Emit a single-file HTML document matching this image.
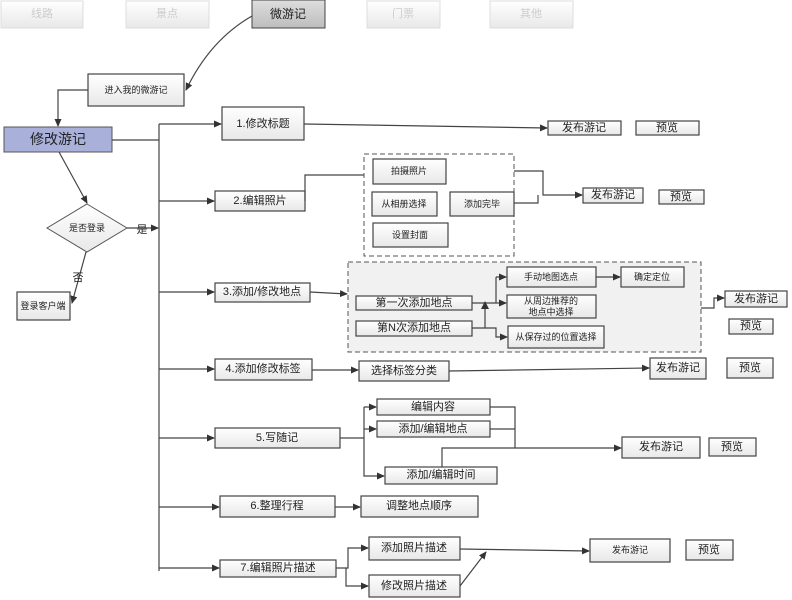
<!DOCTYPE html>
<html><head><meta charset="utf-8"><style>
html,body{margin:0;padding:0;background:#fff;}
svg{display:block;font-family:"Liberation Sans","Noto Sans CJK SC",sans-serif;}
.b{fill:url(#g);stroke:#444;stroke-width:1.2;}
.f{fill:url(#g);stroke:#ddd;stroke-width:1;}
.l{stroke:#444;stroke-width:1.2;fill:none;}
text{font-size:11px;fill:#222;text-anchor:middle;dominant-baseline:central;}
</style></head><body>
<svg width="792" height="600" viewBox="0 0 792 600">
<defs>
<linearGradient id="g" x1="0" y1="0" x2="0" y2="1"><stop offset="0" stop-color="#fff"/><stop offset="1" stop-color="#e8e8e8"/></linearGradient>
<linearGradient id="gg" x1="0" y1="0" x2="0" y2="1"><stop offset="0" stop-color="#dedede"/><stop offset="1" stop-color="#bdbdbd"/></linearGradient>
<marker id="a" markerWidth="8" markerHeight="8" refX="7" refY="4" orient="auto" markerUnits="userSpaceOnUse"><path d="M0,0.5 L8,4 L0,7.5z" fill="#333"/></marker>
</defs>
<!-- tabs -->
<rect class="f" x="1" y="1" width="82" height="27"/><text x="42" y="14" fill="#ccc" style="fill:#ccc">线路</text>
<rect class="f" x="126" y="1" width="83" height="27"/><text x="167" y="14" style="fill:#ccc">景点</text>
<rect x="252" y="0" width="73" height="28" fill="url(#gg)" stroke="#444"/><text x="288" y="14" style="font-size:12px">微游记</text>
<rect class="f" x="367" y="1" width="73" height="27"/><text x="403" y="14" style="fill:#ccc">门票</text>
<rect class="f" x="490" y="1" width="83" height="27"/><text x="531" y="14" style="fill:#ccc">其他</text>
<path class="l" d="M252,16 Q210,40 186,90" marker-end="url(#a)"/>
<rect class="b" x="88" y="74" width="96" height="32"/><text x="136" y="90" style="font-size:9px">进入我的微游记</text>
<path class="l" d="M88,90 H58 V126" marker-end="url(#a)"/>
<rect x="4" y="127" width="108" height="25" fill="#a9b1db" stroke="#555"/><text x="58" y="139" style="font-size:14px">修改游记</text>
<path class="l" d="M59,152 L87,203" marker-end="url(#a)"/>
<polygon points="87,204 127,228 87,252 47,228" fill="url(#g)" stroke="#555"/><text x="87" y="228" style="font-size:9px">是否登录</text>
<path class="l" d="M127,228 H158" marker-end="url(#a)"/><text x="142" y="230" style="font-size:11px">是</text>
<path class="l" d="M86,252 L72,303" marker-end="url(#a)"/><text x="78" y="278">否</text>
<rect class="b" x="17" y="292" width="53" height="28"/><text x="43" y="306" style="font-size:9px">登录客户端</text>
<!-- trunk -->
<path class="l" d="M112,140 H159 M159,124 V571"/>
<path class="l" d="M159,124 H221" marker-end="url(#a)"/>
<path class="l" d="M159,201 H214" marker-end="url(#a)"/>
<path class="l" d="M159,292 H214" marker-end="url(#a)"/>
<path class="l" d="M159,369 H214" marker-end="url(#a)"/>
<path class="l" d="M159,438 H214" marker-end="url(#a)"/>
<path class="l" d="M159,507 H219" marker-end="url(#a)"/>
<path class="l" d="M159,568 H219" marker-end="url(#a)"/>
<!-- 1 -->
<rect class="b" x="222" y="107" width="82" height="33"/><text x="263" y="124">1.修改标题</text>
<path class="l" d="M304,124 L547,128" marker-end="url(#a)"/>
<rect class="b" x="548" y="121" width="73" height="14"/><text x="584" y="128">发布游记</text>
<rect class="b" x="636" y="121" width="63" height="14"/><text x="667" y="128">预览</text>
<!-- 2 -->
<rect class="b" x="215" y="191" width="90" height="20"/><text x="260" y="201">2.编辑照片</text>
<path class="l" d="M305,201 V175 H364"/>
<rect x="364" y="154" width="150" height="102" fill="none" stroke="#555" stroke-dasharray="5,3"/>
<rect class="b" x="373" y="159" width="73" height="25"/><text x="409" y="171" style="font-size:9px">拍摄照片</text>
<rect class="b" x="372" y="192" width="65" height="24"/><text x="404" y="204" style="font-size:9px">从相册选择</text>
<rect class="b" x="450" y="192" width="64" height="24"/><text x="482" y="204" style="font-size:9px">添加完毕</text>
<rect class="b" x="373" y="223" width="75" height="24"/><text x="410" y="235" style="font-size:9px">设置封面</text>
<path class="l" d="M514,171 H543 V195 H582" marker-end="url(#a)"/>
<path class="l" d="M514,203 H538 V195"/>
<rect class="b" x="583" y="188" width="60" height="15"/><text x="613" y="195">发布游记</text>
<rect class="b" x="659" y="190" width="45" height="14"/><text x="681" y="197">预览</text>
<!-- 3 -->
<rect class="b" x="215" y="283" width="95" height="19"/><text x="262" y="292">3.添加/修改地点</text>
<rect x="348" y="262" width="353" height="90" fill="#f1f1f1" stroke="#555" stroke-dasharray="5,3"/>
<path class="l" d="M310,292 L347,294" marker-end="url(#a)"/>
<rect class="b" x="356" y="296" width="116" height="14"/><text x="414" y="303">第一次添加地点</text>
<rect class="b" x="356" y="321" width="116" height="15"/><text x="414" y="328">第N次添加地点</text>
<path class="l" d="M472,303 H496 M472,328 H485 V305"/>
<path d="M481,309 L485,301 L489,309z" fill="#333"/>
<path class="l" d="M496,277 V303 M496,277 H506" marker-end="url(#a)"/>
<path class="l" d="M496,303 H506" marker-end="url(#a)"/>
<path class="l" d="M485,328 H496 V337 H507" marker-end="url(#a)"/>
<rect class="b" x="507" y="267" width="89" height="20"/><text x="551" y="277" style="font-size:9px">手动地图选点</text>
<rect class="b" x="507" y="295" width="89" height="23"/><text x="551" y="301" style="font-size:9px">从周边推荐的</text><text x="551" y="312" style="font-size:9px">地点中选择</text>
<rect class="b" x="508" y="326" width="96" height="22"/><text x="556" y="337" style="font-size:9px">从保存过的位置选择</text>
<path class="l" d="M596,277 H620" marker-end="url(#a)"/>
<rect class="b" x="621" y="267" width="63" height="20"/><text x="652" y="277" style="font-size:9px">确定定位</text>
<path class="l" d="M701,308 H714 V298 H724" marker-end="url(#a)"/>
<rect class="b" x="725" y="291" width="62" height="16"/><text x="756" y="299">发布游记</text>
<rect class="b" x="729" y="319" width="44" height="15"/><text x="751" y="326">预览</text>
<!-- 4 -->
<rect class="b" x="215" y="359" width="97" height="21"/><text x="263" y="369">4.添加修改标签</text>
<path class="l" d="M312,370 H358" marker-end="url(#a)"/>
<rect class="b" x="359" y="361" width="90" height="20"/><text x="404" y="371">选择标签分类</text>
<path class="l" d="M449,371 L649,368" marker-end="url(#a)"/>
<rect class="b" x="650" y="358" width="56" height="21"/><text x="678" y="368">发布游记</text>
<rect class="b" x="727" y="358" width="46" height="20"/><text x="750" y="368">预览</text>
<!-- 5 -->
<rect class="b" x="215" y="428" width="125" height="20"/><text x="277" y="438">5.写随记</text>
<path class="l" d="M340,438 H364 V407 M364,407 H376" marker-end="url(#a)"/>
<path class="l" d="M364,429 H376" marker-end="url(#a)"/>
<path class="l" d="M364,438 V476 H384" marker-end="url(#a)"/>
<rect class="b" x="377" y="399" width="113" height="16"/><text x="433" y="407">编辑内容</text>
<rect class="b" x="377" y="421" width="113" height="16"/><text x="433" y="429">添加/编辑地点</text>
<rect class="b" x="385" y="467" width="112" height="17"/><text x="441" y="475">添加/编辑时间</text>
<path class="l" d="M490,407 H515 V448 M490,429 H515 M442,467 V448 H621" marker-end="url(#a)"/>
<rect class="b" x="622" y="437" width="78" height="21"/><text x="661" y="447">发布游记</text>
<rect class="b" x="709" y="438" width="47" height="18"/><text x="732" y="447">预览</text>
<!-- 6 -->
<rect class="b" x="220" y="496" width="115" height="21"/><text x="277" y="506">6.整理行程</text>
<path class="l" d="M335,507 H360" marker-end="url(#a)"/>
<rect class="b" x="361" y="496" width="117" height="21"/><text x="419" y="506">调整地点顺序</text>
<!-- 7 -->
<rect class="b" x="220" y="560" width="116" height="17"/><text x="278" y="568">7.编辑照片描述</text>
<path class="l" d="M336,568 H348 V548 H368" marker-end="url(#a)"/>
<path class="l" d="M346,568 V586 H368" marker-end="url(#a)"/>
<rect class="b" x="369" y="537" width="91" height="23"/><text x="414" y="548">添加照片描述</text>
<rect class="b" x="369" y="575" width="91" height="22"/><text x="414" y="586">修改照片描述</text>
<path class="l" d="M460,549 L589,551" marker-end="url(#a)"/>
<path class="l" d="M460,586 L486,552" marker-end="url(#a)"/>
<rect class="b" x="590" y="539" width="80" height="23"/><text x="630" y="550" style="font-size:9px">发布游记</text>
<rect class="b" x="686" y="540" width="47" height="20"/><text x="709" y="550">预览</text>
</svg>
</body></html>
